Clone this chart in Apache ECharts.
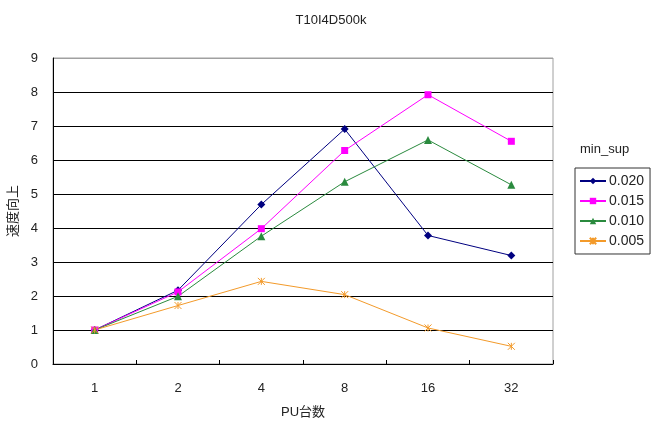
<!DOCTYPE html>
<html>
<head>
<meta charset="utf-8">
<title>T10I4D500k</title>
<script src="https://cdn.jsdelivr.net/npm/echarts@6/dist/echarts.min.js"></script>
<style>
  html, body { margin: 0; padding: 0; background: #fff; }
  #chart { width: 652px; height: 423px; }
</style>
</head>
<body>
<div id="chart"></div>
<script>
// Number of processing units (x categories)
const puCounts = ['1', '2', '4', '8', '16', '32'];
// y-axis tick values 0..9
const yTicks = [0, 1, 2, 3, 4, 5, 6, 7, 8, 9];

// Speed-up for each min_sup setting
const seriesNames = ['0.020', '0.015', '0.010', '0.005'];
const sup020 = [1.00, 2.17, 4.69, 6.91, 3.78, 3.19];
const sup015 = [1.00, 2.12, 3.98, 6.28, 7.92, 6.55];
const sup010 = [1.00, 1.99, 3.76, 5.36, 6.59, 5.27];
const sup005 = [1.00, 1.72, 2.43, 2.04, 1.06, 0.52];

const FONT = '"Liberation Sans", "Noto Sans CJK JP", sans-serif';
const starPath = 'path://M0,0L10,10M10,0L0,10M5,0L5,10';

function lineSeries(name, data, color, symbol, size, extra) {
  return Object.assign({
    name: name,
    type: 'line',
    data: data,
    symbol: symbol,
    symbolSize: size,
    showAllSymbol: true,
    lineStyle: { color: color, width: 1 },
    itemStyle: { color: color },
    emphasis: { disabled: true },
    animation: false
  }, extra || {});
}

const chart = echarts.init(document.getElementById('chart'), null, { renderer: 'canvas' });
chart.setOption({
  backgroundColor: '#ffffff',
  animation: false,
  title: {
    text: 'T10I4D500k',
    left: 326,
    textAlign: 'center',
    top: 9,
    textStyle: { fontFamily: FONT, fontSize: 13, fontWeight: 'normal', color: '#222' }
  },
  grid: {
    left: 53, top: 58, right: 99, bottom: 59,
    outerBoundsMode: 'none',
    containLabel: false,
    show: true,
    borderColor: '#a0a0a0',
    borderWidth: 1,
    backgroundColor: 'transparent'
  },
  legend: {
    orient: 'vertical',
    left: 575,
    top: 168,
    width: 75,
    padding: [6, 6, 6, 4],
    itemGap: 6,
    itemWidth: 26,
    itemHeight: 8,
    borderColor: '#333',
    borderWidth: 1,
    backgroundColor: '#fff',
    data: seriesNames,
    textStyle: { fontFamily: FONT, fontSize: 14, color: '#222', padding: [0, 0, 0, -2] }
  },
  graphic: [{
    type: 'text',
    left: 580,
    top: 143,
    style: { text: 'min_sup', fontFamily: FONT, fontSize: 13, fill: '#222' }
  }],
  xAxis: {
    type: 'category',
    data: puCounts,
    boundaryGap: true,
    name: 'PU台数',
    nameLocation: 'middle',
    nameGap: 42,
    nameTextStyle: { fontFamily: FONT, fontSize: 13, color: '#222' },
    axisLine: { lineStyle: { color: '#000', width: 1 } },
    axisTick: { show: true, inside: true, length: 4, lineStyle: { color: '#000' } },
    axisLabel: { margin: 18, fontFamily: FONT, fontSize: 13, color: '#222' },
    splitLine: { show: false }
  },
  yAxis: {
    type: 'value',
    min: yTicks[0],
    max: yTicks[yTicks.length - 1],
    interval: 1,
    name: '速度向上',
    nameLocation: 'middle',
    nameGap: 34,
    nameTextStyle: { fontFamily: '"Noto Sans CJK JP", sans-serif', fontSize: 13, color: '#222' },
    axisLine: { show: true, lineStyle: { color: '#000', width: 1 } },
    axisTick: { show: false },
    axisLabel: { margin: 15, fontFamily: FONT, fontSize: 13, color: '#222' },
    splitLine: {
      show: true,
      lineStyle: {
        width: 1,
        color: ['#000', '#000', '#000', '#000', '#000', '#000', '#000', '#000', '#000', '#a0a0a0']
      }
    }
  },
  series: [
    lineSeries(seriesNames[0], sup020, '#000080', 'diamond', 8),
    lineSeries(seriesNames[1], sup015, '#ff00ff', 'rect', 7),
    lineSeries(seriesNames[2], sup010, '#2a8a3e', 'triangle', 8),
    lineSeries(seriesNames[3], sup005, '#f39a2a', starPath, 7, {
      itemStyle: { color: '#f39a2a', borderColor: '#f39a2a', borderWidth: 1 }
    })
  ]
});
</script>
</body>
</html>
